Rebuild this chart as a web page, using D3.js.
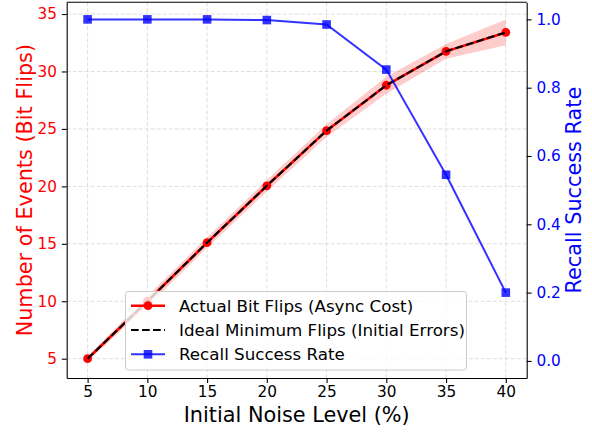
<!DOCTYPE html>
<html>
<head>
<meta charset="utf-8">
<script src="https://cdn.jsdelivr.net/npm/d3@7"></script>
<style>
  body { margin: 0; background: #fff; }
  svg text { font-family: "DejaVu Sans", sans-serif; }
</style>
</head>
<body>
<div id="chart"></div>
<script>
// data
var noiseLevels = [5, 10, 15, 20, 25, 30, 35, 40];
var actualFlips = [5.0, 10.0, 15.1, 20.05, 24.85, 28.8, 31.75, 33.4];
var flipsStd = [0.2, 0.45, 0.45, 0.5, 0.55, 0.75, 0.65, 1.12];
var idealFlips = [5.0, 10.0, 15.1, 20.05, 24.85, 28.8, 31.75, 33.4];
var recallRate = [1.0, 1.0, 1.0, 0.998, 0.985, 0.853, 0.545, 0.2];

var xTicks = [5, 10, 15, 20, 25, 30, 35, 40];
var leftTicks = [5, 10, 15, 20, 25, 30, 35];
var rightTicks = [0.0, 0.2, 0.4, 0.6, 0.8, 1.0];
var legendLabels = ["Actual Bit Flips (Async Cost)", "Ideal Minimum Flips (Initial Errors)", "Recall Success Rate"];

function DualChart(id){

    d3.select(id).select("svg").remove();

    var left = 66.7, top = 2.3, width = 460, height = 375.7;

    var svg = d3.select(id)
                .append("svg")
                .attr("width", 592)
                .attr("height", 432);

    var g = svg.append("g")
                .attr("transform", "translate(" + left + "," + top + ")");

    var x = d3.scaleLinear().domain([3.25, 41.75]).range([0, width]);
    var yL = d3.scaleLinear().domain([3.32, 36.02]).range([height, 0]);
    var yR = d3.scaleLinear().domain([-0.05, 1.05]).range([height, 0]);

    // grid
    g.selectAll(".gx").data(xTicks).enter().append("line")
        .attr("x1", function(d){ return x(d); })
        .attr("x2", function(d){ return x(d); })
        .attr("y1", 0).attr("y2", height)
        .attr("stroke", "#d6d6d6").attr("stroke-width", 0.8)
        .attr("stroke-dasharray", "4,2");
    g.selectAll(".gy").data(leftTicks).enter().append("line")
        .attr("x1", 0).attr("x2", width)
        .attr("y1", function(d){ return yL(d); })
        .attr("y2", function(d){ return yL(d); })
        .attr("stroke", "#d6d6d6").attr("stroke-width", 0.8)
        .attr("stroke-dasharray", "4,2");

    var rows = noiseLevels.map(function(n, i){
        return {x: n, a: actualFlips[i], s: flipsStd[i], ideal: idealFlips[i], r: recallRate[i]};
    });

    // std band
    var area = d3.area()
        .x(function(d){ return x(d.x); })
        .y0(function(d){ return yL(d.a - d.s); })
        .y1(function(d){ return yL(d.a + d.s); });
    g.append("path").datum(rows)
        .attr("d", area)
        .attr("fill", "#ff0000")
        .attr("fill-opacity", 0.2);

    // actual flips
    var lineA = d3.line().x(function(d){ return x(d.x); }).y(function(d){ return yL(d.a); });
    g.append("path").datum(rows)
        .attr("d", lineA)
        .attr("fill", "none")
        .attr("stroke", "#ff0000")
        .attr("stroke-width", 2.6);
    g.selectAll(".dotA").data(rows).enter().append("circle")
        .attr("cx", function(d){ return x(d.x); })
        .attr("cy", function(d){ return yL(d.a); })
        .attr("r", 4.4)
        .attr("fill", "#ff0000");

    // ideal flips
    var lineI = d3.line().x(function(d){ return x(d.x); }).y(function(d){ return yL(d.ideal); });
    g.append("path").datum(rows)
        .attr("d", lineI)
        .attr("fill", "none")
        .attr("stroke", "#000")
        .attr("stroke-width", 2.1)
        .attr("stroke-dasharray", "7.7,3.3");

    // recall rate on right axis
    var lineR = d3.line().x(function(d){ return x(d.x); }).y(function(d){ return yR(d.r); });
    g.append("path").datum(rows)
        .attr("d", lineR)
        .attr("fill", "none")
        .attr("stroke", "#0000ff")
        .attr("stroke-opacity", 0.8)
        .attr("stroke-width", 2);
    g.selectAll(".sqR").data(rows).enter().append("rect")
        .attr("x", function(d){ return x(d.x) - 4.3; })
        .attr("y", function(d){ return yR(d.r) - 4.3; })
        .attr("width", 8.6).attr("height", 8.6)
        .attr("fill", "#0000ff")
        .attr("fill-opacity", 0.8);

    // axes
    var xAxis = g.append("g")
        .attr("transform", "translate(0," + height + ")")
        .call(d3.axisBottom(x).tickValues(xTicks).tickSize(4.9).tickPadding(3.5).tickSizeOuter(0));
    xAxis.selectAll("text").style("font-size", "15.3px").attr("fill", "#000");

    var yAxisL = g.append("g")
        .call(d3.axisLeft(yL).tickValues(leftTicks).tickSize(4.9).tickPadding(4.9).tickSizeOuter(0));
    yAxisL.selectAll("text").style("font-size", "15.3px").attr("fill", "#ff0000");

    var yAxisR = g.append("g")
        .attr("transform", "translate(" + width + ",0)")
        .call(d3.axisRight(yR).tickValues(rightTicks).tickFormat(d3.format(".1f")).tickSize(4.9).tickPadding(4.9).tickSizeOuter(0));
    yAxisR.selectAll("text").style("font-size", "15.3px").attr("fill", "#0000ff");

    g.selectAll(".domain").attr("stroke", "#000").attr("stroke-width", 1.1);
    g.selectAll(".tick line").attr("stroke", "#000").attr("stroke-width", 1.1);

    g.append("line")
        .attr("x1", 0).attr("x2", width)
        .attr("y1", 0).attr("y2", 0)
        .attr("stroke", "#000").attr("stroke-width", 1.1);

    // labels
    svg.append("text")
        .attr("x", left + width / 2)
        .attr("y", 422)
        .attr("text-anchor", "middle")
        .style("font-size", "20.8px")
        .text("Initial Noise Level (%)");

    svg.append("text")
        .attr("transform", "translate(32," + (top + height / 2) + ")rotate(-90)")
        .attr("text-anchor", "middle")
        .attr("fill", "#ff0000")
        .style("font-size", "20.8px")
        .text("Number of Events (Bit Flips)");

    svg.append("text")
        .attr("transform", "translate(581," + (top + height / 2) + ")rotate(-90)")
        .attr("text-anchor", "middle")
        .attr("fill", "#0000ff")
        .style("font-size", "20.8px")
        .text("Recall Success Rate");

    // legend
    var lg = svg.append("g").attr("transform", "translate(125.5,291.5)");
    lg.append("rect")
        .attr("width", 341).attr("height", 78.5)
        .attr("rx", 3)
        .attr("fill", "#fff").attr("fill-opacity", 0.8)
        .attr("stroke", "#cccccc").attr("stroke-width", 1);

    var rowY = [14.2, 38.5, 62.8];
    legendLabels.forEach(function(label, i){
        var item = lg.append("g").attr("transform", "translate(0," + rowY[i] + ")");
        if (i == 0) {
            item.append("line").attr("x1", 5.5).attr("x2", 39.5)
                .attr("stroke", "#ff0000").attr("stroke-width", 2.6);
            item.append("circle").attr("cx", 22.5).attr("r", 4.4).attr("fill", "#ff0000");
        } else if (i == 1) {
            item.append("line").attr("x1", 5.5).attr("x2", 39.5)
                .attr("stroke", "#000").attr("stroke-width", 2.1)
                .attr("stroke-dasharray", "7.7,3.3");
        } else {
            item.append("line").attr("x1", 5.5).attr("x2", 39.5)
                .attr("stroke", "#0000ff").attr("stroke-opacity", 0.8).attr("stroke-width", 2);
            item.append("rect").attr("x", 22.5 - 4.3).attr("y", -4.3)
                .attr("width", 8.6).attr("height", 8.6)
                .attr("fill", "#0000ff").attr("fill-opacity", 0.8);
        }
        item.append("text")
            .attr("x", 53.5)
            .attr("dy", "0.35em")
            .style("font-size", "16.7px")
            .text(label);
    });
}

DualChart("#chart");
</script>
</body>
</html>
